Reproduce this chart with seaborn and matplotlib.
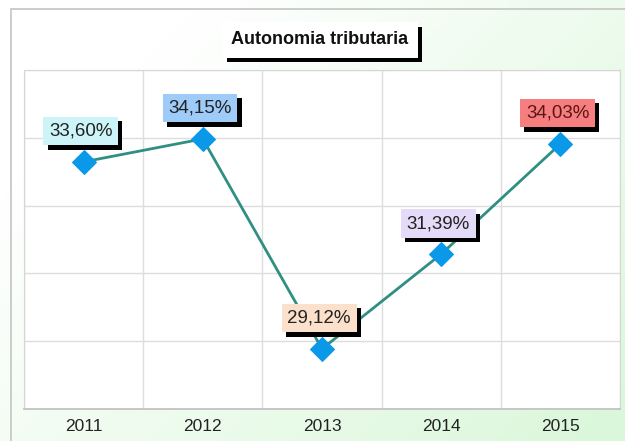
import numpy as np
import pandas as pd
import matplotlib
matplotlib.use('Agg')
import matplotlib.pyplot as plt
import matplotlib.patheffects as pe
from matplotlib.patches import Rectangle
import seaborn as sns

# data
years = ['2011', '2012', '2013', '2014', '2015']
autonomia = [33.60, 34.15, 29.12, 31.39, 34.03]
labels = ['33,60%', '34,15%', '29,12%', '31,39%', '34,03%']

box_colors = ['#cdf5f9', '#9fcbf8', '#fbe1cb', '#e3dbf7', '#f77e7e']
text_colors = ['#222222', '#222222', '#222222', '#222222', '#5a1515']

df = pd.DataFrame({'Anno': years, 'Autonomia': autonomia})

sns.set_style('white')
plt.rcParams['font.family'] = ['Liberation Sans', 'DejaVu Sans']

fig = plt.figure(figsize=(6.25, 4.41), dpi=100)

# gradient background (white -> light green)
bg = fig.add_axes([0, 0, 1, 1], zorder=-10)
gx, gy = np.meshgrid(np.linspace(0, 1, 200), np.linspace(0, 1, 200))
t = np.clip(0.75 * gx + 0.55 * gy - 0.25, 0, 1)
white = np.array([1.0, 1.0, 1.0])
green = np.array([0.86, 0.97, 0.86])
img = white[None, None, :] * (1 - t[..., None]) + green[None, None, :] * t[..., None]
bg.imshow(img, extent=[0, 1, 0, 1], origin='upper', aspect='auto')
bg.set_xlim(0, 1)
bg.set_ylim(0, 1)
bg.axis('off')
# outer frame
bg.add_patch(Rectangle((11 / 625, -0.1), 1.2, 1.1 - 9 / 441, fill=False,
                       edgecolor='#c4c4c4', linewidth=1.2))

ax = fig.add_axes([24 / 625, 32 / 441, 596 / 625, 339 / 441])
ax.set_facecolor('white')

sns.lineplot(data=df, x='Anno', y='Autonomia', ax=ax, color='#2f8f82',
             linewidth=2, marker='D', markersize=12, markerfacecolor='#0a98e8',
             markeredgecolor='#0a98e8', zorder=3)

ax.set_xlim(-0.5, len(years) - 0.5)
ax.set_ylim(27.68, 35.80)
ax.set_yticks(np.linspace(27.68, 35.80, 6))
ax.set_yticklabels([])
ax.set_xticks(range(len(years)))
ax.set_xticklabels(years, fontsize=12.5, color='#222222')
ax.set_xticks(np.arange(-0.5, len(years), 1), minor=True)
ax.tick_params(axis='x', which='major', length=0, pad=7)
ax.tick_params(axis='x', which='minor', length=12, color='#d8d8d8', width=1, direction='out')
ax.tick_params(axis='y', length=0)
ax.grid(True, axis='y', color='#dddddd', linewidth=1)
ax.grid(True, axis='x', which='minor', color='#dddddd', linewidth=1)
ax.set_xlabel('')
ax.set_ylabel('')
for side in ['left', 'top', 'right']:
    ax.spines[side].set_color('#d6d6d6')
ax.spines['bottom'].set_color('#c6c6c6')
ax.spines['bottom'].set_linewidth(1.4)

shadow = [pe.SimplePatchShadow(offset=(3, -3), shadow_rgbFace='black', alpha=1), pe.Normal()]

for i, (val, lab) in enumerate(zip(autonomia, labels)):
    t = ax.annotate(lab, xy=(i, val), xytext=(-2, 22), textcoords='offset points',
                    ha='center', va='center', fontsize=13.5, color=text_colors[i],
                    bbox=dict(boxstyle='square,pad=0.3', facecolor=box_colors[i],
                              edgecolor='none'), zorder=5)
    t.get_bbox_patch().set_path_effects(shadow)

title = fig.text(320 / 625, 1 - 40 / 441, 'Autonomia tributaria', ha='center', va='center',
                 fontsize=13, fontweight='bold', color='#111111',
                 bbox=dict(boxstyle='square,pad=0.5', facecolor='white', edgecolor='none'))
title.get_bbox_patch().set_path_effects(shadow)

fig.savefig('out.png', dpi=100)
